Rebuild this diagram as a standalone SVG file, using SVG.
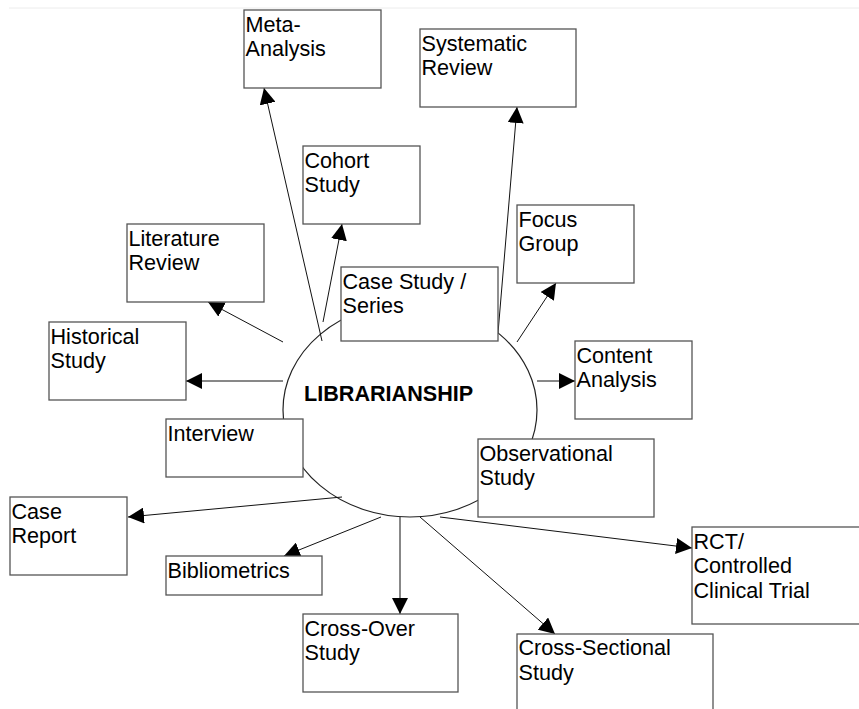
<svg xmlns="http://www.w3.org/2000/svg" width="859" height="709" viewBox="0 0 859 709">
<style>
.box{fill:#fff;stroke:#555;stroke-width:1.3}
.t{font-family:"Liberation Sans",Arial,Helvetica,sans-serif;font-size:21.6px;fill:#000}
.c{stroke:#111;stroke-width:1;fill:none;marker-end:url(#ah)}
</style>
<defs>
<marker id="ah" viewBox="0 0 16 16" refX="16" refY="8" markerWidth="16" markerHeight="16" markerUnits="userSpaceOnUse" orient="auto">
<path d="M0,0 L16,8 L0,16 z" fill="#000"/>
</marker>
</defs>
<rect width="859" height="709" fill="#fff"/>
<line x1="9" y1="8" x2="859" y2="8" stroke="#ececec" stroke-width="1"/>
<g id="center">
<ellipse cx="410" cy="410" rx="127" ry="107" fill="none" stroke="#222" stroke-width="1.2"/>
<text class="t" x="304" y="401" font-weight="bold">LIBRARIANSHIP</text>
</g>
<g id="connectors">
<line class="c" x1="322" y1="341" x2="264" y2="88"/>
<line class="c" x1="323" y1="322" x2="342" y2="224"/>
<line class="c" x1="498" y1="333" x2="517" y2="107"/>
<line class="c" x1="517" y1="342" x2="556" y2="283"/>
<line class="c" x1="537" y1="381" x2="575" y2="381"/>
<line class="c" x1="283" y1="342" x2="208" y2="302"/>
<line class="c" x1="283" y1="381" x2="186" y2="381"/>
<line class="c" x1="342" y1="497" x2="128" y2="517"/>
<line class="c" x1="381" y1="517" x2="284" y2="556"/>
<line class="c" x1="400" y1="517" x2="400" y2="614"/>
<line class="c" x1="420" y1="517" x2="555" y2="634"/>
<line class="c" x1="440" y1="517" x2="692" y2="548"/>
</g>
<g id="meta-analysis"><rect class="box" x="244" y="10" width="137" height="78"/><text class="t" x="245.5" y="31.5">Meta-</text><text class="t" x="245.5" y="56">Analysis</text></g>
<g id="systematic-review"><rect class="box" x="420" y="29" width="156" height="78"/><text class="t" x="421.5" y="50.8">Systematic</text><text class="t" x="421.5" y="75.2">Review</text></g>
<g id="cohort-study"><rect class="box" x="303" y="146" width="117" height="78"/><text class="t" x="304.5" y="167.6">Cohort</text><text class="t" x="304.5" y="192">Study</text></g>
<g id="literature-review"><rect class="box" x="127" y="224" width="137" height="78"/><text class="t" x="128.5" y="245.6">Literature</text><text class="t" x="128.5" y="270">Review</text></g>
<g id="focus-group"><rect class="box" x="517" y="205" width="117" height="78"/><text class="t" x="518.5" y="226.6">Focus</text><text class="t" x="518.5" y="251">Group</text></g>
<g id="case-study"><rect class="box" x="341" y="267" width="157" height="74"/><text class="t" x="342.5" y="288.6">Case Study /</text><text class="t" x="342.5" y="313">Series</text></g>
<g id="historical-study"><rect class="box" x="49" y="322" width="137" height="78"/><text class="t" x="50.5" y="343.6">Historical</text><text class="t" x="50.5" y="368">Study</text></g>
<g id="content-analysis"><rect class="box" x="575" y="341" width="117" height="78"/><text class="t" x="576.5" y="362.6">Content</text><text class="t" x="576.5" y="387">Analysis</text></g>
<g id="interview"><rect class="box" x="166" y="419" width="137" height="58"/><text class="t" x="167.5" y="440.6">Interview</text></g>
<g id="observational-study"><rect class="box" x="478" y="439" width="176" height="78"/><text class="t" x="479.5" y="460.6">Observational</text><text class="t" x="479.5" y="485">Study</text></g>
<g id="case-report"><rect class="box" x="10" y="497" width="117" height="78"/><text class="t" x="11.5" y="518.6">Case</text><text class="t" x="11.5" y="543">Report</text></g>
<g id="bibliometrics"><rect class="box" x="166" y="556" width="156" height="39"/><text class="t" x="167.5" y="577.6">Bibliometrics</text></g>
<g id="cross-over-study"><rect class="box" x="303" y="614" width="155" height="78"/><text class="t" x="304.5" y="635.6">Cross-Over</text><text class="t" x="304.5" y="660">Study</text></g>
<g id="rct"><rect class="box" x="692" y="527" width="180" height="97"/><text class="t" x="693.5" y="548.8">RCT/</text><text class="t" x="693.5" y="573.2">Controlled</text><text class="t" x="693.5" y="597.6">Clinical Trial</text></g>
<g id="cross-sectional-study"><rect class="box" x="517" y="634" width="196" height="97"/><text class="t" x="518.5" y="655.4">Cross-Sectional</text><text class="t" x="518.5" y="679.8">Study</text></g>
</svg>
